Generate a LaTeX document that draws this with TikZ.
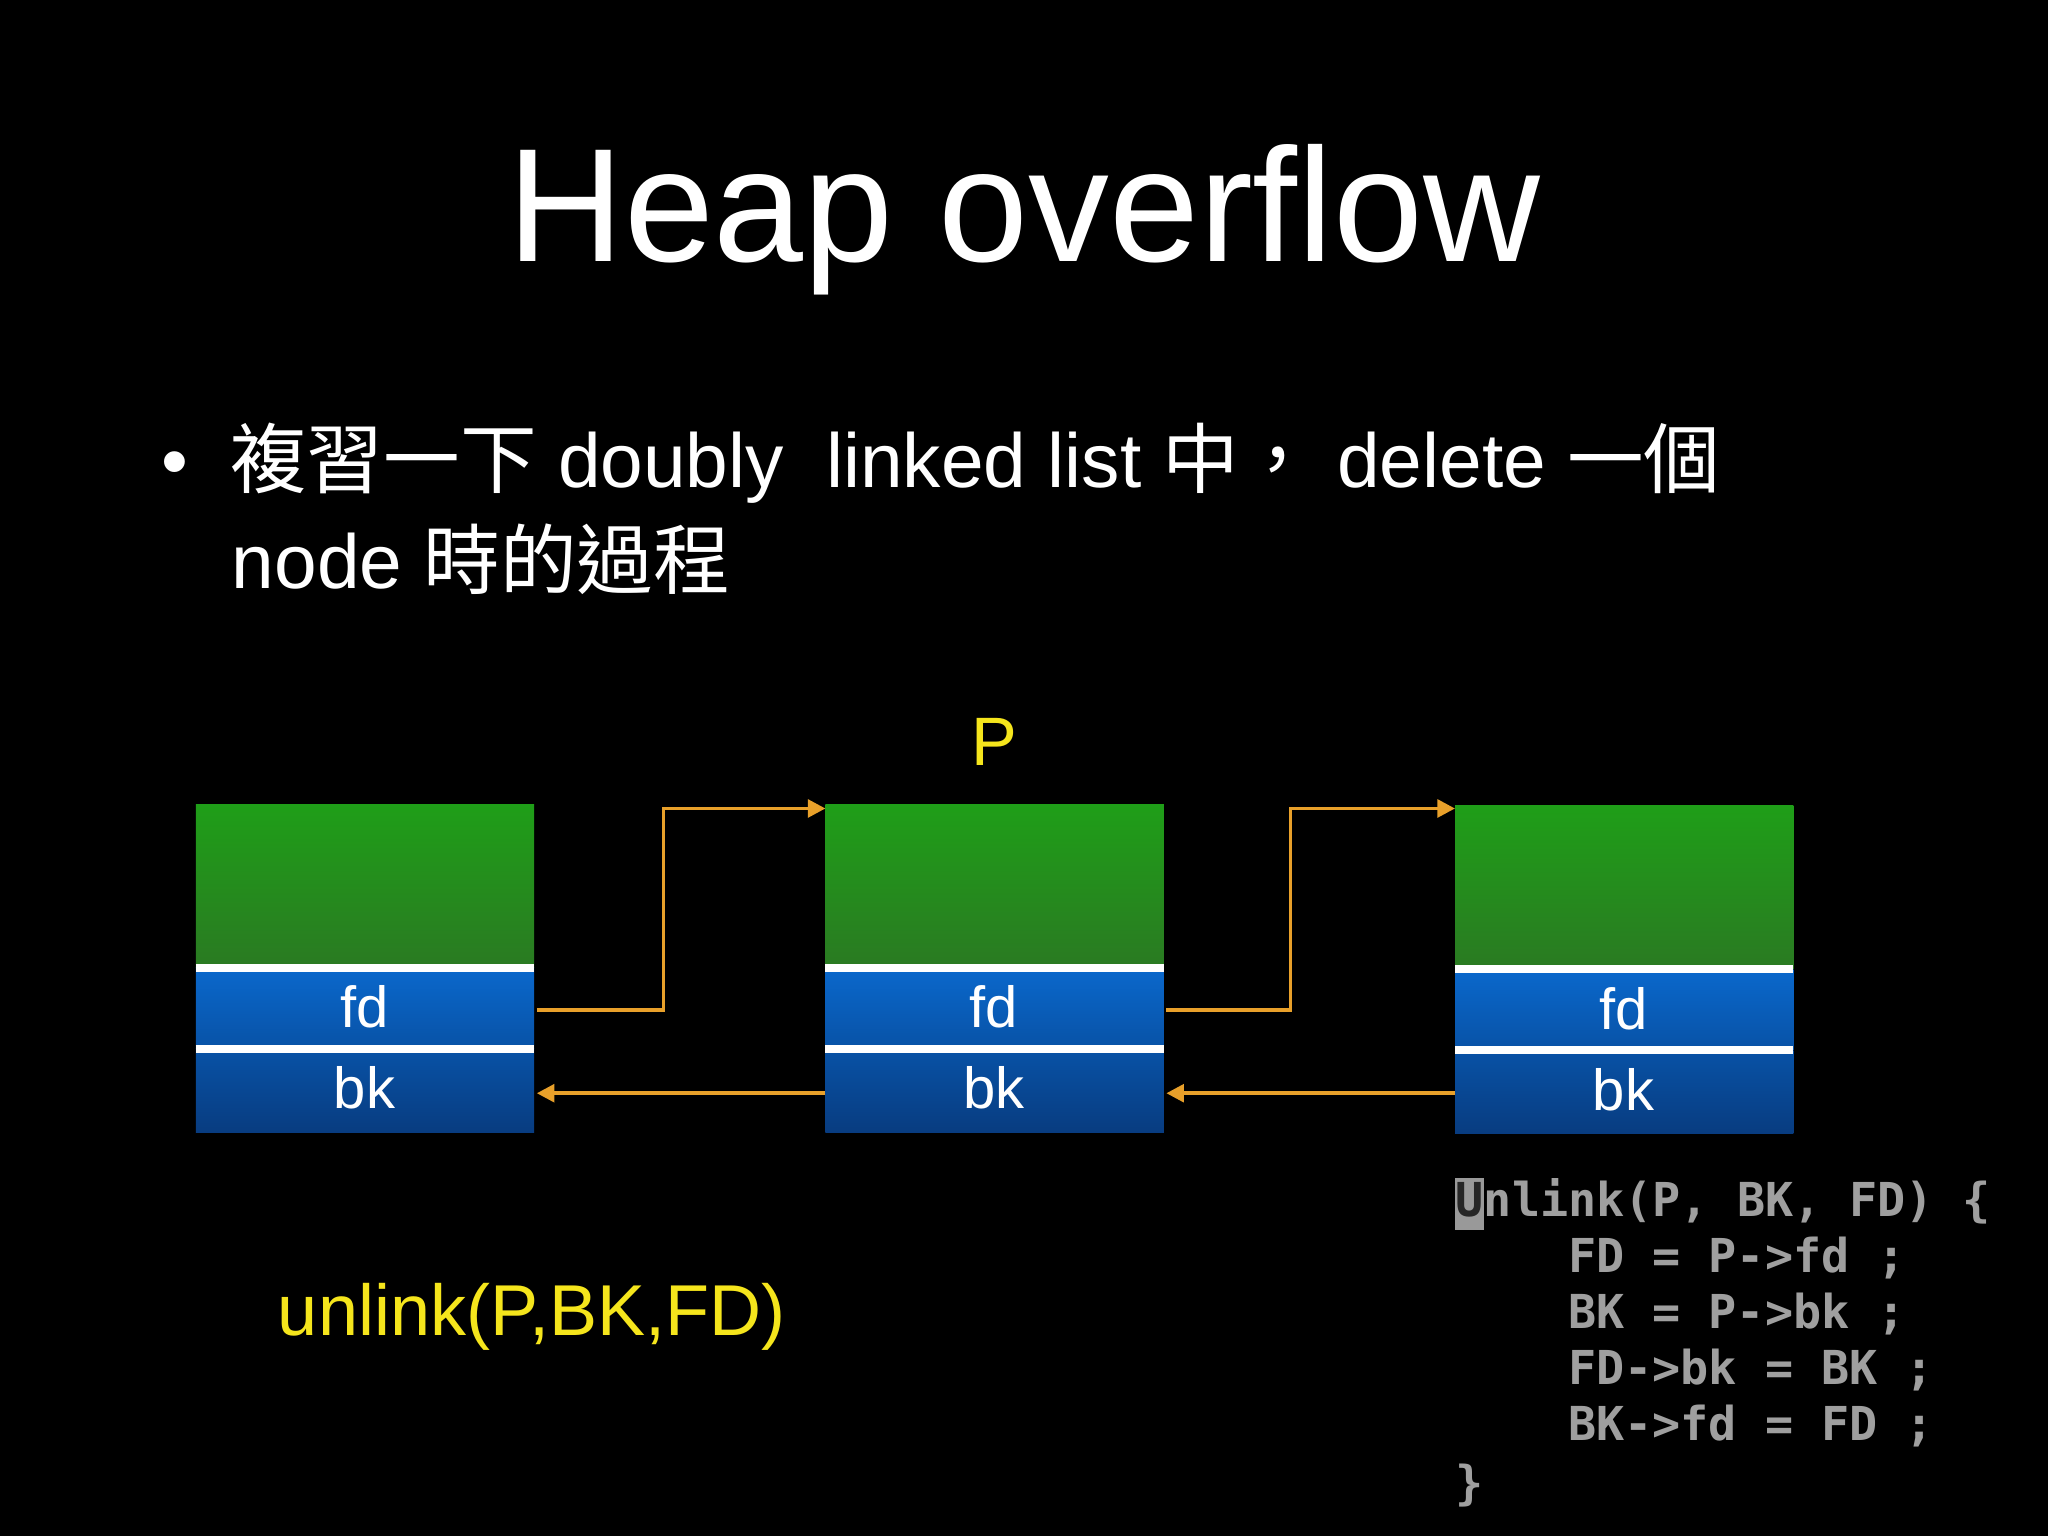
\documentclass[tikz,border=0pt]{standalone}
\usepackage{fontspec}
\setmainfont{Liberation Sans}
\newfontfamily\cjk{Noto Sans CJK TC}
\newfontfamily\codefont{DejaVu Sans Mono}
\usetikzlibrary{arrows.meta}
\definecolor{ora}{HTML}{E8A02A}
\definecolor{yel}{HTML}{F5E51C}
\definecolor{gtop}{HTML}{1F9E18}
\definecolor{gbot}{HTML}{2A7A22}
\definecolor{btop}{HTML}{0A68CC}
\definecolor{bmid}{HTML}{0852A6}
\definecolor{bbot}{HTML}{083C80}
\tikzset{
  greenbox/.style={top color=gtop,bottom color=gbot,draw=none},
  fdbox/.style={top color=btop,bottom color=bmid,draw=none},
  bkbox/.style={top color=bmid,bottom color=bbot,draw=none},
  sep/.style={white,line width=2.2pt},
  lbl/.style={white,font=\fontsize{16.5}{18}\selectfont},
  link/.style={ora,line width=1.1pt,-{Triangle[length=5pt,width=5pt]}},
  code/.style={anchor=west,inner sep=0pt,text=gray!75,font=\codefont\bfseries\fontsize{13.3}{15}\selectfont}
}
\begin{document}
\begin{tikzpicture}[x=0.01306cm,y=-0.01306cm]
\fill[black] (0,0) rectangle (1568,1176);
\useasboundingbox (0,0) rectangle (1568,1176);
\node[white,font=\fontsize{46}{50}\selectfont] (title) at (784,168) {Heap overflow};
\node[white,anchor=west,font=\fontsize{21.8}{24}\selectfont] (b1) at (114,355) {\textbullet\hspace{0.55em}{\cjk 複習一下} doubly\ \ linked list {\cjk 中，} delete {\cjk 一個}};
\node[white,anchor=west,font=\fontsize{21.8}{24}\selectfont] (b2) at (168,428) {node {\cjk 時的過程}};
% nodes
\foreach \n/\x/\y in {1/150/616,2/632/616,3/1114/617}{
  \path[greenbox] (\x,\y) rectangle ++(259,125);
  \path[fdbox] (\x,\y+125) rectangle ++(259,62);
  \path[bkbox] (\x,\y+187) rectangle ++(259,64);
  \draw[sep] (\x,\y+125) -- ++(259,0);
  \draw[sep] (\x,\y+187) -- ++(259,0);
  \node[lbl] (fd\n) at (\x+129,\y+155) {fd};
  \node[lbl] (bk\n) at (\x+129,\y+217) {bk};
  \coordinate (fdr\n) at (\x+261,\y+157);
  \coordinate (bkl\n) at (\x,837);
  \coordinate (bkr\n) at (\x+261,837);
  \coordinate (top\n) at (\x,619);
}
\draw[link] (fdr1) -- (508,773) |- (top2);
\draw[link] (fdr2) -- (988,773) |- (top3);
\draw[link] (bkl2) -- (bkr1);
\draw[link] (bkl3) -- (bkr2);
\node[yel,font=\fontsize{19.5}{21}\selectfont] (P) at (761,568) {P};
\node[yel,font=\fontsize{20.5}{23}\selectfont] (un) at (407,1008) {unlink(P,BK,FD)};
\fill[gray!80] (1114,902) rectangle (1136,942);
\node[code] (c1) at (1114,920) {\textcolor{black!85}{U}nlink(P, BK, FD) \{};
\node[code] (c2) at (1200,963) {FD = P->fd ;};
\node[code] (c3) at (1200,1006) {BK = P->bk ;};
\node[code] (c4) at (1200,1049) {FD->bk = BK ;};
\node[code] (c5) at (1200,1092) {BK->fd = FD ;};
\node[code] (c6) at (1114,1137) {\}};
\end{tikzpicture}
\end{document}
